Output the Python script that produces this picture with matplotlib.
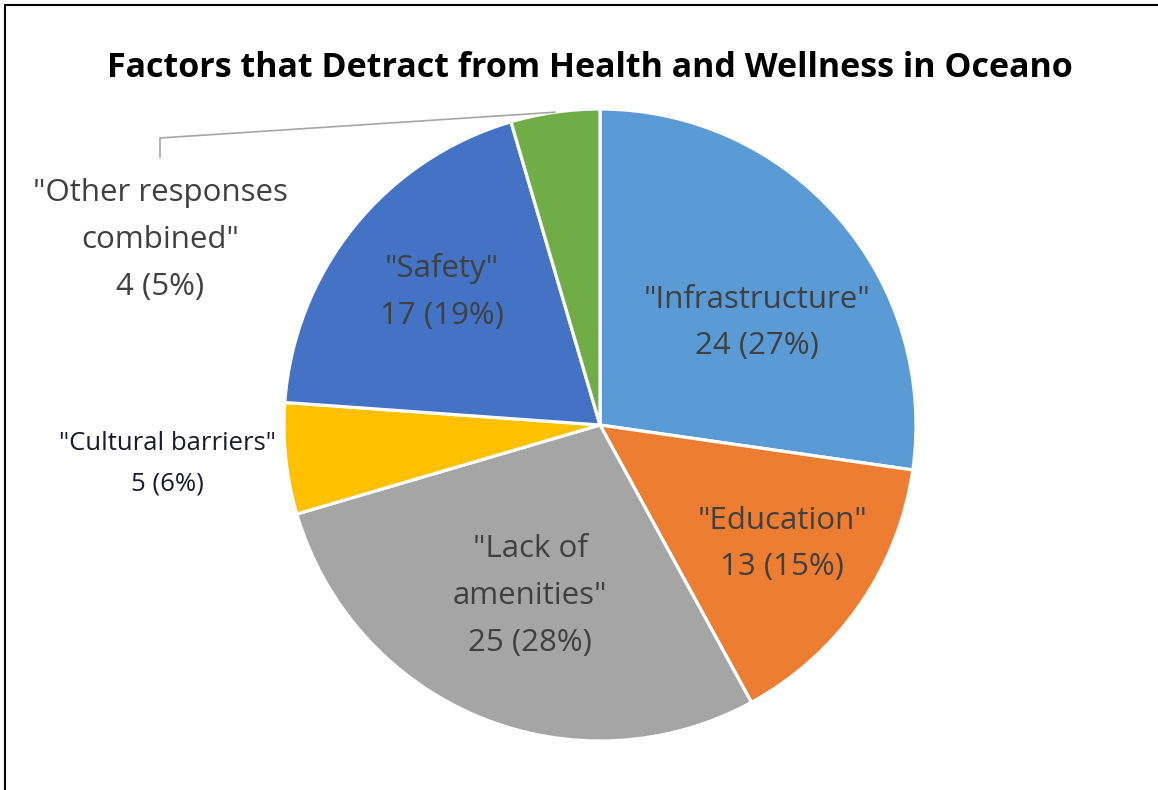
import matplotlib
matplotlib.use("Agg")
import matplotlib.pyplot as plt
from matplotlib.patches import Rectangle
import numpy as np

# data
categories = ['"Infrastructure"', '"Education"', '"Lack of\namenities"',
              '"Cultural barriers"', '"Safety"', '"Other responses\ncombined"']
counts = [24, 13, 25, 5, 17, 4]
percents = [27, 15, 28, 6, 19, 5]
colors = ["#5B9BD5", "#ED7D31", "#A5A5A5", "#FFC000", "#4472C4", "#70AD47"]

title = "Factors that Detract from Health and Wellness in Oceano"

W, H = 1158, 790
fig = plt.figure(figsize=(W / 100, H / 100), dpi=100)
ax = fig.add_axes([0, 0, 1, 1])

# pie in pixel coordinates (y measured upward)
cx, cy, r = 600, H - 425, 316
wedges, _ = ax.pie(counts, colors=colors, startangle=90, counterclock=False,
                   radius=r, center=(cx, cy),
                   wedgeprops=dict(edgecolor="white", linewidth=2.3))
ax.set_xlim(0, W)
ax.set_ylim(0, H)
ax.set_aspect("equal")
ax.axis("off")

# label placement (pixel centre from top-left, font size, line spacing)
layout = [
    (757, 323, 22.5, 1.73),
    (782, 544, 22.5, 1.73),
    (530, 596, 22.5, 1.73),
    (167, 464, 18.5, 1.8),
    (442, 292, 22.5, 1.73),
    (160, 240, 22.5, 1.73),
]
txtcol = "#404040"
for i, (lab, n, p) in enumerate(zip(categories, counts, percents)):
    x, y, fs, ls = layout[i]
    col = "#1a1a2e" if i == 3 else txtcol
    ax.text(x, H - y, f"{lab}\n{n} ({p}%)", ha="center", va="center",
            fontsize=fs, color=col, family="Open Sans", linespacing=ls)

# leader line for the small green slice
th = (wedges[5].theta1 + wedges[5].theta2) / 2
px = cx + r * np.cos(np.radians(th))
py = cy + r * np.sin(np.radians(th))
ax.plot([px, 160, 160], [py, H - 138, H - 157], color="#a6a6a6", lw=1.2)

fig.text(590 / W, 1 - 68 / H, title, ha="center", va="center",
         fontsize=24.5, fontweight="bold", family="Open Sans", color="black")

# chart frame (only top and left edges visible in the crop)
fig.patches.append(Rectangle((5 / W, -0.05), 1.1, 1 - 5 / H + 0.05,
                             transform=fig.transFigure, fill=False,
                             edgecolor="black", lw=1.5))

fig.savefig("out.png", dpi=100)
